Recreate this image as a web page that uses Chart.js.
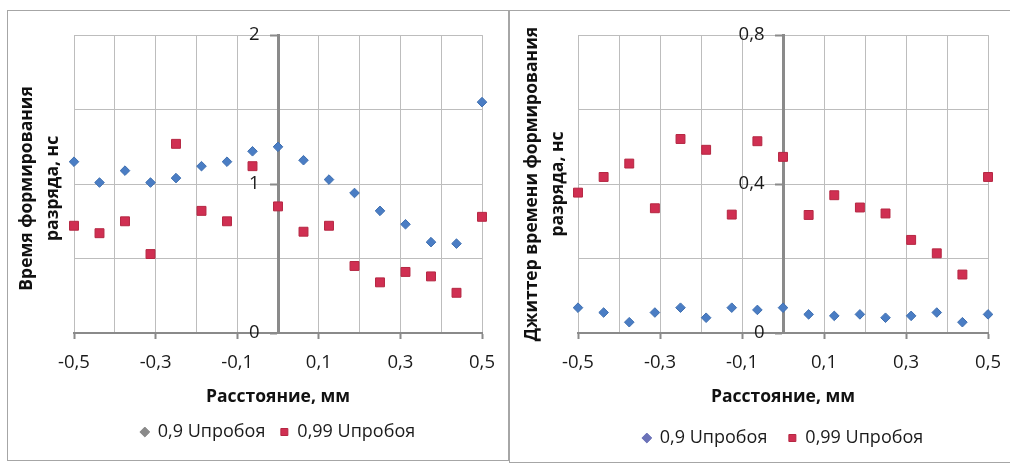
<!DOCTYPE html>
<html>
<head>
<meta charset="utf-8">
<script src="https://cdn.jsdelivr.net/npm/chart.js@4.4.1/dist/chart.umd.min.js"></script>
<style>
  html, body { margin: 0; padding: 0; background: #fff; width: 1010px; height: 466px; overflow: hidden; }
  .frame { position: absolute; border: 1px solid #a6a6a6; background: #fff; }
  #f1 { left: 7px; top: 10px; width: 500px; height: 449px; }
  #f2 { left: 509px; top: 10px; width: 504px; height: 451px; }
  canvas { display: block; }
</style>
</head>
<body>
<div class="frame" id="f1"><canvas id="c1" width="500" height="449"></canvas></div>
<div class="frame" id="f2"><canvas id="c2" width="504" height="451"></canvas></div>
<script>
// ---- data ----
const distance = [-0.5, -0.4375, -0.375, -0.3125, -0.25, -0.1875, -0.125, -0.0625, 0,
                  0.0625, 0.125, 0.1875, 0.25, 0.3125, 0.375, 0.4375, 0.5];
const seriesNames = ['0,9 Uпробоя', '0,99 Uпробоя'];

const timeU09  = [1.15, 1.01, 1.09, 1.01, 1.04, 1.12, 1.15, 1.22, 1.25, 1.16, 1.03, 0.94, 0.82, 0.73, 0.61, 0.60, 1.55];
const timeU099 = [0.72, 0.67, 0.75, 0.53, 1.27, 0.82, 0.75, 1.12, 0.85, 0.68, 0.72, 0.45, 0.34, 0.41, 0.38, 0.27, 0.78];

const jitterU09  = [0.068, 0.055, 0.029, 0.055, 0.068, 0.041, 0.068, 0.062, 0.068, 0.050, 0.046, 0.050, 0.041, 0.046, 0.055, 0.029, 0.050];
const jitterU099 = [0.377, 0.419, 0.455, 0.335, 0.521, 0.492, 0.318, 0.515, 0.473, 0.317, 0.370, 0.337, 0.321, 0.250, 0.214, 0.157, 0.419];

const xGridValues  = [-0.5, -0.4, -0.3, -0.2, -0.1, 0, 0.1, 0.2, 0.3, 0.4, 0.5];
const xLabelValues = [-0.5, -0.3, -0.1, 0.1, 0.3, 0.5];
const yGridLeft    = [0, 0.5, 1, 1.5, 2];
const yLabelLeft   = [0, 1, 2];
const yGridRight   = [0, 0.2, 0.4, 0.6, 0.8];
const yLabelRight  = [0, 0.4, 0.8];

const xTitle = 'Расстояние, мм';
const yTitleLeft  = ['Время формирования\u2002', 'разряда, нс\u2002'];
const yTitleRight = ['Джиттер времени формирования', 'разряда, нс'];

// ---- styling ----
const FONT = "'Open Sans', 'Noto Sans', sans-serif";
const BLUE = '#4a7dc4';
const RED = '#d02f52';
const GRID = '#bdbdbd';
const AXIS = '#8a8a8a';
const TICK_SIZE = 18.5;
const TITLE_SIZE = 17.5;

const fmt = v => {
  const r = Math.round(v * 10) / 10;
  return (Number.isInteger(r) ? String(r) : r.toFixed(1)).replace('.', ',');
};
const inList = (v, list) => list.some(t => Math.abs(t - v) < 1e-9);
const toPoints = ys => ys.map((y, i) => ({x: distance[i], y}));

function makeChart(canvasId, cfg) {
  return new Chart(document.getElementById(canvasId), {
    type: 'scatter',
    data: {
      datasets: [
        { label: seriesNames[0], data: toPoints(cfg.s1), pointStyle: 'rectRot',
          pointRadius: 4.8, pointHoverRadius: 4.8, backgroundColor: BLUE, borderColor: '#3f6fb0',
          borderWidth: 1, clip: false },
        { label: seriesNames[1], data: toPoints(cfg.s2), pointStyle: 'rect',
          pointRadius: 6.3, pointHoverRadius: 6.3, backgroundColor: RED, borderColor: '#b52742',
          borderWidth: 1, clip: false }
      ]
    },
    options: {
      responsive: false,
      animation: false,
      events: [],
      layout: { padding: { top: 22, right: cfg.padRight, bottom: cfg.padBottom, left: 0 } },
      plugins: {
        tooltip: { enabled: false },
        legend: {
          position: 'bottom',
          fullSize: false,
          labels: {
            font: { family: FONT, size: 18 },
            color: '#1a1a1a',
            usePointStyle: true,
            boxWidth: 8,
            boxHeight: 7,
            padding: cfg.legendPad,
            generateLabels: chart => {
              const items = Chart.defaults.plugins.legend.labels.generateLabels(chart);
              items[0].fillStyle = cfg.legendBlue; items[0].strokeStyle = cfg.legendBlue;
              return items;
            }
          }
        }
      },
      scales: {
        x: {
          type: 'linear',
          position: 'bottom',
          min: -0.5, max: 0.5,
          afterBuildTicks: s => { s.ticks = xGridValues.map(v => ({value: v})); },
          afterFit: s => { s.height = 75; },
          grid: {
            color: GRID, lineWidth: 1, drawTicks: true, tickLength: 6,
            tickColor: c => inList(c.tick.value, xLabelValues) ? AXIS : 'rgba(0,0,0,0)',
            tickWidth: 2
          },
          border: { display: true, color: AXIS, width: 2 },
          ticks: {
            autoSkip: false, maxRotation: 0, padding: 13,
            font: { family: FONT, size: TICK_SIZE }, color: '#1a1a1a',
            callback: v => inList(v, xLabelValues) ? fmt(v) : ''
          },
          title: { display: true, text: xTitle, font: { family: FONT, size: TITLE_SIZE, weight: 'bold' },
                   color: '#111', padding: 0 }
        },
        y: {
          type: 'linear',
          position: { x: 0 },
          min: 0, max: cfg.yMax,
          afterBuildTicks: s => { s.ticks = cfg.yGrid.map(v => ({value: v})); },
          grid: {
            color: GRID, lineWidth: 1, drawTicks: true, tickLength: 7,
            tickColor: c => inList(c.tick.value, cfg.yLabels) ? AXIS : 'rgba(0,0,0,0)',
            tickWidth: 2
          },
          border: { display: true, color: AXIS, width: 3 },
          ticks: {
            padding: 13,
            font: { family: FONT, size: TICK_SIZE }, color: '#1a1a1a',
            // trailing en-spaces keep the labels clear of the centred axis
            callback: v => inList(v, cfg.yLabels) ? fmt(v) + '\u2002\u2002' : ''
          }
        },
        yt: {
          type: 'linear',
          position: 'left',
          display: true,
          afterFit: s => { s.width = cfg.titleWidth; },
          grid: { display: false, drawTicks: false },
          border: { display: false },
          ticks: { display: false },
          title: { display: true, text: cfg.yTitle,
                   font: { family: FONT, size: TITLE_SIZE, weight: 'bold', lineHeight: '26px' },
                   color: '#111', padding: { top: cfg.titlePad, bottom: 0 } }
        }
      }
    }
  });
}

makeChart('c1', {
  s1: timeU09, s2: timeU099, yMax: 2, yGrid: yGridLeft, yLabels: yLabelLeft,
  yTitle: yTitleLeft, titleWidth: 66, titlePad: 6, padRight: 26, padBottom: 9,
  legendPad: 15, legendBlue: '#8a8a8a'
});
makeChart('c2', {
  s1: jitterU09, s2: jitterU099, yMax: 0.8, yGrid: yGridRight, yLabels: yLabelRight,
  yTitle: yTitleRight, titleWidth: 68, titlePad: 9, padRight: 16, padBottom: 5,
  legendPad: 21, legendBlue: '#6b72b8'
});
</script>
</body>
</html>
